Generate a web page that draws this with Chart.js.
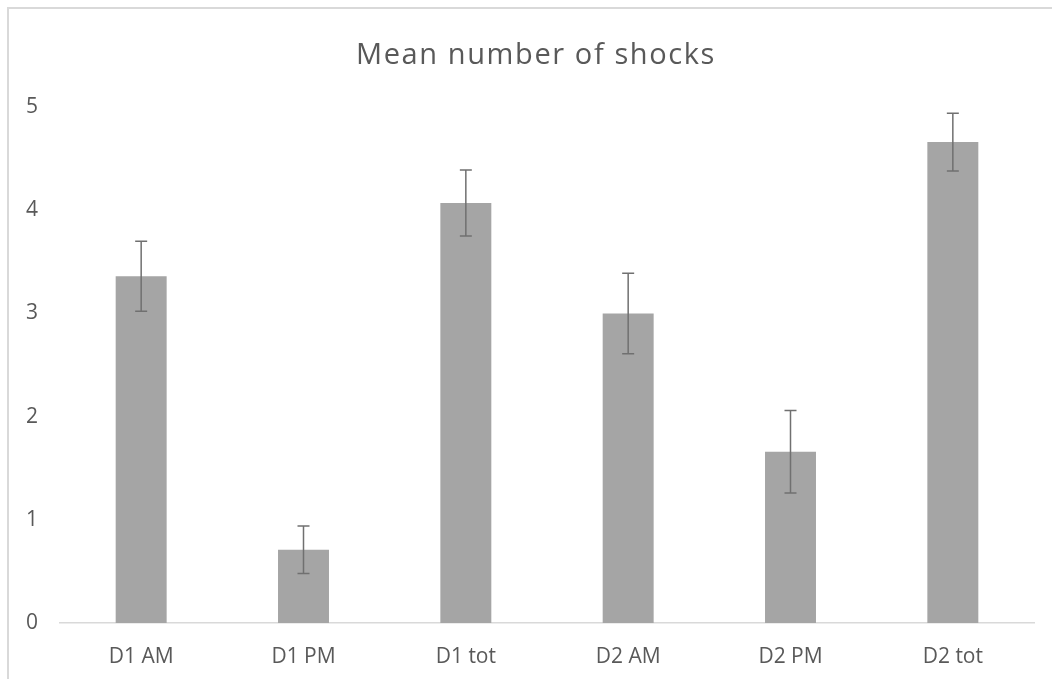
<!DOCTYPE html>
<html lang="en">
<head>
  <meta charset="UTF-8" />
  <title>Mean number of shocks</title>
  <script src="https://cdn.jsdelivr.net/npm/chart.js"></script>
  <style>
    html, body { margin: 0; padding: 0; background: #fff; overflow: hidden; }
    #wrap { position: relative; width: 1052px; height: 679px; }
    #frame { position: absolute; left: 7px; top: 7px; width: 1100px; height: 720px;
             border-left: 2px solid #d9d9d9; border-top: 2px solid #d9d9d9; }
    canvas { position: absolute; left: 0; top: 0; }
  </style>
</head>
<body>
  <div id="wrap">
    <div id="frame"></div>
    <canvas id="grafico" width="1052" height="679"></canvas>
  </div>

  <script>
    const categories = ['D1 AM', 'D1 PM', 'D1 tot', 'D2 AM', 'D2 PM', 'D2 tot'];
    const means = [3.36, 0.71, 4.07, 3.0, 1.66, 4.66];
    const errors = [0.34, 0.23, 0.32, 0.39, 0.40, 0.28];
    const yTicks = [0, 1, 2, 3, 4, 5];

    const textColor = '#595959';

    // error bars drawn from the y scale, on top of the bars
    const errorBars = {
      id: 'errorBars',
      afterDatasetsDraw(chart) {
        const ctx = chart.ctx;
        const y = chart.scales.y;
        const meta = chart.getDatasetMeta(0);
        ctx.save();
        ctx.strokeStyle = '#707070';
        ctx.lineWidth = 1.5;
        meta.data.forEach((bar, i) => {
          const top = y.getPixelForValue(means[i] + errors[i]);
          const bot = y.getPixelForValue(means[i] - errors[i]);
          ctx.beginPath();
          ctx.moveTo(bar.x, top);
          ctx.lineTo(bar.x, bot);
          ctx.moveTo(bar.x - 6, top);
          ctx.lineTo(bar.x + 6, top);
          ctx.moveTo(bar.x - 6, bot);
          ctx.lineTo(bar.x + 6, bot);
          ctx.stroke();
        });
        ctx.restore();
      }
    };

    // the title in the original is a little wider and sits centred on the whole frame
    const spacedTitle = {
      id: 'spacedTitle',
      afterUpdate(chart) {
        const tb = chart.titleBlock;
        if (!tb || tb._spaced) return;
        const orig = tb.draw.bind(tb);
        tb.draw = function () {
          const ctx = this.ctx;
          ctx.save();
          ctx.translate(19, 0);
          ctx.letterSpacing = '1.6px';
          orig();
          ctx.restore();
        };
        tb._spaced = true;
      }
    };

    new Chart(document.getElementById('grafico').getContext('2d'), {
      type: 'bar',
      data: {
        labels: categories,
        datasets: [{
          data: means,
          backgroundColor: '#a5a5a5',
          categoryPercentage: 1,
          barPercentage: 0.314
        }]
      },
      options: {
        responsive: false,
        animation: false,
        devicePixelRatio: 1,
        layout: { padding: { left: 0, right: 18, top: 0, bottom: 0 } },
        plugins: {
          legend: { display: false },
          tooltip: { enabled: false },
          title: {
            display: true,
            text: 'Mean number of shocks',
            color: textColor,
            font: { family: 'Open Sans', size: 29, weight: 'normal' },
            padding: { top: 38.6, bottom: 33.6 }
          }
        },
        scales: {
          x: {
            grid: { display: false, drawTicks: false },
            border: { display: true, color: '#d9d9d9', width: 1.5 },
            ticks: { color: textColor, font: { family: 'Open Sans', size: 21 }, padding: 21 },
            afterFit: axis => { axis.height = 56; }
          },
          y: {
            min: 0,
            max: 5,
            afterBuildTicks: axis => { axis.ticks = yTicks.map(v => ({ value: v })); },
            grid: { display: false, drawTicks: false },
            border: { display: false },
            ticks: { color: textColor, font: { family: 'Open Sans', size: 21 }, padding: 22 },
            afterFit: axis => { axis.width = 60; }
          }
        }
      },
      plugins: [errorBars, spacedTitle]
    });
  </script>
</body>
</html>
